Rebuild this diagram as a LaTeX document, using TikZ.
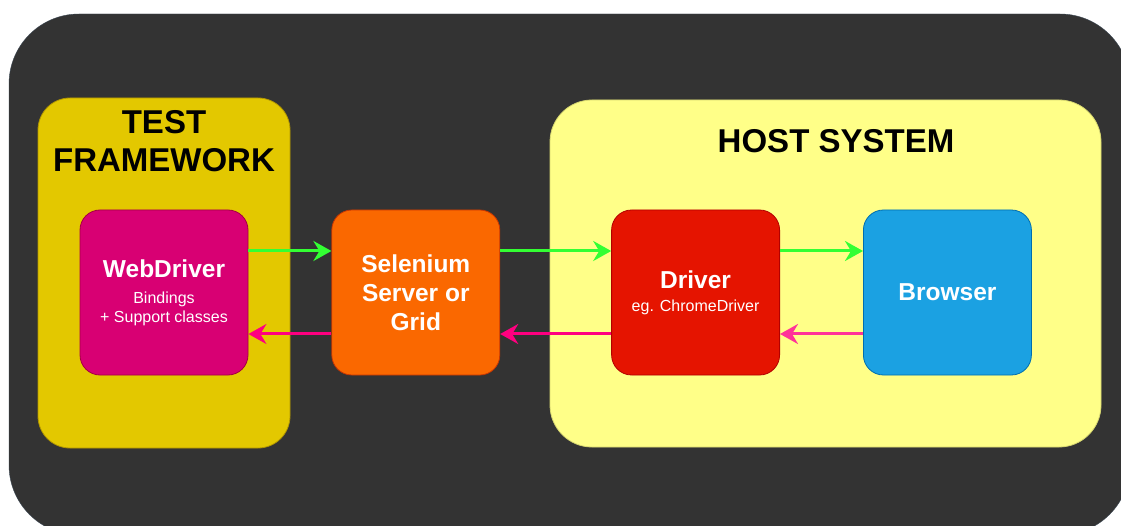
\documentclass[tikz,border=0pt]{standalone}
\usepackage{fontspec}
\setmainfont{Liberation Sans}
\usetikzlibrary{arrows.meta,positioning}
\definecolor{panelgray}{HTML}{333333}
\definecolor{panelline}{HTML}{3A4652}
\definecolor{tfyellow}{HTML}{E3C800}
\definecolor{tfline}{HTML}{B09500}
\definecolor{hostyellow}{HTML}{FFFF88}
\definecolor{hostline}{HTML}{D8D870}
\definecolor{webpink}{HTML}{D80073}
\definecolor{webline}{HTML}{A50040}
\definecolor{selorange}{HTML}{FA6800}
\definecolor{selline}{HTML}{C73500}
\definecolor{drvred}{HTML}{E51400}
\definecolor{drvline}{HTML}{B20000}
\definecolor{brwblue}{HTML}{1BA1E2}
\definecolor{brwline}{HTML}{006EAF}
\definecolor{callgreen}{HTML}{33FF33}
\definecolor{replypink}{HTML}{FF0080}
\definecolor{replypinklight}{HTML}{FF3399}
\newcommand\boxtitle{\fontsize{24.5}{29}\selectfont\bfseries}
\newcommand\boxnote{\fontsize{16}{19}\selectfont\mdseries}
\newcommand\grouptitle{\fontsize{33}{38}\selectfont\bfseries}
\begin{document}
\begin{tikzpicture}[x=1pt,y=-1pt,
    group/.style={rounded corners=#1,line width=0.8pt},
    unit/.style={draw,rounded corners=20pt,line width=0.8pt,minimum width=168pt,
        minimum height=165pt,inner sep=0pt,align=center,text=white,font=\boxtitle},
    call/.style={callgreen,line width=3pt,-{Stealth[length=18pt,width=20pt,inset=6pt]}},
    reply/.style={replypink,line width=3pt,-{Stealth[length=18pt,width=20pt,inset=6pt]}}]
    \useasboundingbox (0,0) rectangle (1121,526);
    \begin{scope}
        \clip (0,0) rectangle (1121,526);
        \fill[panelgray,draw=panelline,rounded corners=70pt] (9,14) rectangle (1130,535);
    \end{scope}
    \fill[tfyellow,draw=tfline,group=32pt] (38,98) rectangle (290,448);
    \fill[hostyellow,draw=hostline,group=42pt] (550,100) rectangle (1101,447);
    \node[align=center,font=\grouptitle] (tftitle) at (164,141) {TEST\\FRAMEWORK};
    \node[font=\grouptitle] (hosttitle) at (836,141) {HOST SYSTEM};
    \node[unit,fill=webpink,draw=webline] (web) at (164,292.5)
        {WebDriver\\[-3pt]{\boxnote Bindings}\\[-10pt]{\boxnote + Support classes}};
    \node[unit,fill=selorange,draw=selline,right=83pt of web] (sel)
        {Selenium\\Server or\\Grid};
    \node[unit,fill=drvred,draw=drvline,right=111pt of sel] (drv)
        {Driver\\[-6pt]{\boxnote eg. ChromeDriver}};
    \node[unit,fill=brwblue,draw=brwline,right=83pt of drv] (brw) {Browser};
    \foreach \a/\b in {web/sel,sel/drv,drv/brw} {
        \draw[call] ([yshift=41.5pt]\a.east) -- ([yshift=41.5pt]\b.west);
    }
    \foreach \a/\b in {sel/web,drv/sel} {
        \draw[reply] ([yshift=-41.5pt]\a.west) -- ([yshift=-41.5pt]\b.east);
    }
    \draw[reply,replypinklight] ([yshift=-41.5pt]brw.west) -- ([yshift=-41.5pt]drv.east);
\end{tikzpicture}
\end{document}
